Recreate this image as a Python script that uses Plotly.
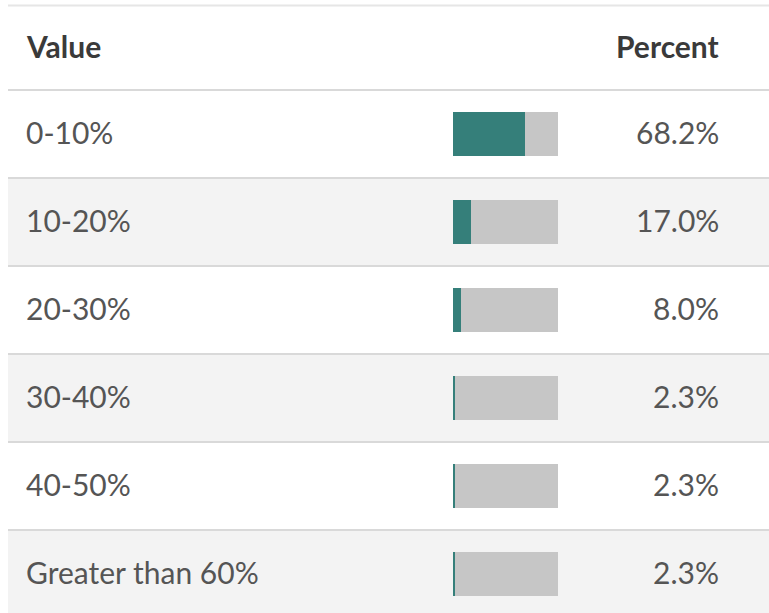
import plotly.graph_objects as go

categories = ["0-10%", "10-20%", "20-30%", "30-40%", "40-50%", "Greater than 60%"]
percents = [68.2, 17.0, 8.0, 2.3, 2.3, 2.3]
header_value = "Value"
header_percent = "Percent"

W, H = 769, 613
TEAL = "#357f7a"
GRAY_BAR = "#c6c6c6"
ROW_ALT = "#f3f3f3"
LINE = "#d9d9d9"
FONT = "Lato, 'Open Sans', sans-serif"

n = len(categories)
yidx = list(range(n))

fig = go.Figure()
fig.add_trace(go.Bar(
    y=yidx, x=[100] * n, orientation="h", marker=dict(color=GRAY_BAR, line=dict(width=0)),
    width=0.5, hoverinfo="skip", showlegend=False))
fig.add_trace(go.Bar(
    y=yidx, x=percents, orientation="h", marker=dict(color=TEAL, line=dict(width=0)),
    width=0.5, hoverinfo="skip", showlegend=False))

shapes = []
for i in range(n):
    if i % 2 == 1:
        shapes.append(dict(type="rect", xref="paper", yref="y", x0=8 / W, x1=1,
                           y0=i - 0.5, y1=i + 0.5, fillcolor=ROW_ALT, line=dict(width=0),
                           layer="below"))
top_line = -1.46
shapes.append(dict(type="line", xref="paper", yref="y", x0=8 / W, x1=1, y0=top_line, y1=top_line,
                   line=dict(color="#e6e6e6", width=2)))
for i in range(n):
    shapes.append(dict(type="line", xref="paper", yref="y", x0=8 / W, x1=1,
                       y0=i - 0.5, y1=i - 0.5, line=dict(color=LINE, width=2)))

annotations = []
hy = -1.0
toff = -0.025
annotations.append(dict(x=24 / W, y=hy, xref="paper", yref="y", text=header_value,
                        showarrow=False, xanchor="left", yanchor="middle",
                        font=dict(family=FONT, size=30, color="#3a3a3a", weight="bold")))
annotations.append(dict(x=721 / W, y=hy, xref="paper", yref="y", text=header_percent,
                        showarrow=False, xanchor="right", yanchor="middle",
                        font=dict(family=FONT, size=30, color="#3a3a3a", weight="bold")))
for i, (c, p) in enumerate(zip(categories, percents)):
    annotations.append(dict(x=24 / W, y=i + toff, xref="paper", yref="y", text=c,
                            showarrow=False, xanchor="left", yanchor="middle",
                            font=dict(family=FONT, size=30, color="#555555")))
    annotations.append(dict(x=721 / W, y=i + toff, xref="paper", yref="y", text=f"{p:.1f}%",
                            showarrow=False, xanchor="right", yanchor="middle",
                            font=dict(family=FONT, size=30, color="#555555")))

fig.update_layout(
    width=W, height=H,
    margin=dict(l=0, r=0, t=0, b=0),
    paper_bgcolor="white", plot_bgcolor="rgba(0,0,0,0)",
    barmode="overlay", bargap=0,
    xaxis=dict(domain=[453 / W, 558 / W], range=[0, 100], visible=False, fixedrange=True),
    yaxis=dict(range=[(H - 134) / 88, -134 / 88], visible=False, fixedrange=True),
    shapes=shapes, annotations=annotations,
)

fig.write_html("out.html", config={"displayModeBar": False},
               post_script="document.body.style.margin='0';document.body.style.overflow='hidden';")
